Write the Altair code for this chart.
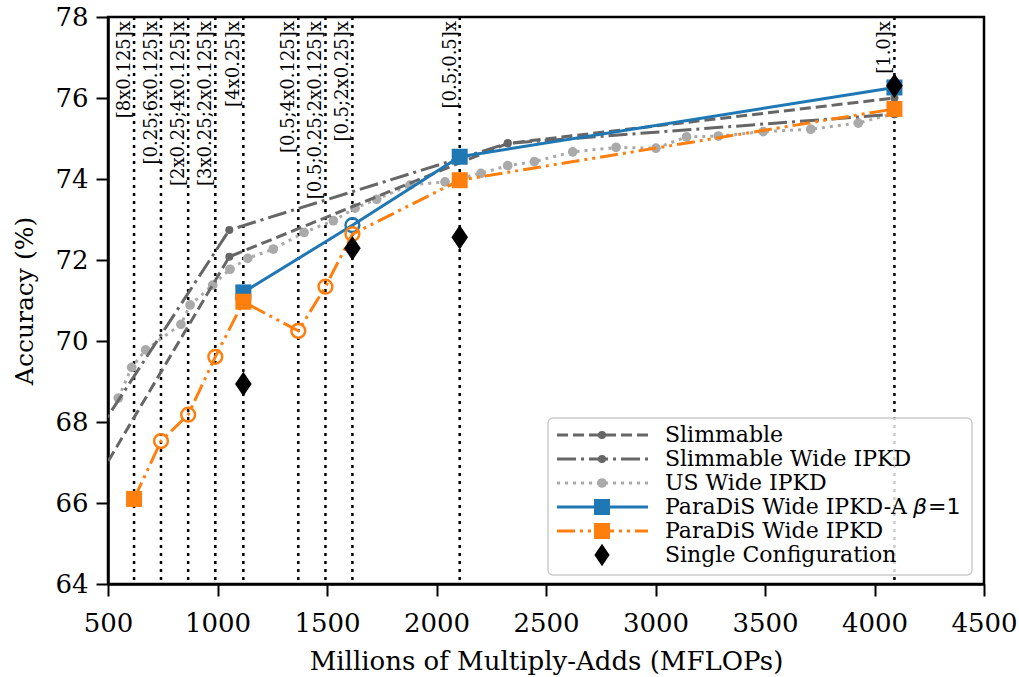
import altair as alt
import pandas as pd

# ---------------- data ----------------
config_flops = [619, 742, 866, 990, 1118, 1369, 1493, 1616, 2106, 4091]
config_labels = ["[8x0.125]x", "[0.25;6x0.125]x", "[2x0.25;4x0.125]x",
                 "[3x0.25;2x0.125]x", "[4x0.25]x", "[0.5;4x0.125]x",
                 "[0.5;0.25;2x0.125]x", "[0.5;2x0.25]x", "[0.5;0.5]x", "[1.0]x"]

slim_flops = [278, 1054, 2325, 4091]
slim_acc = [65.0, 72.08, 74.88, 76.0]

slimwide_flops = [278, 1054, 2325, 4091]
slimwide_acc = [66.3, 72.74, 74.88, 75.6]

us_flops = [547, 608, 672, 833, 875, 978, 1057, 1138, 1255, 1395, 1529, 1628,
            1727, 1879, 2039, 2203, 2325, 2447, 2622, 2820, 3002, 3142, 3287,
            3492, 3709, 3926, 4091]
us_acc = [68.59, 69.35, 69.78, 70.41, 70.89, 71.38, 71.77, 72.04, 72.27, 72.68,
          72.97, 73.28, 73.50, 73.85, 73.93, 74.14, 74.33, 74.43, 74.67, 74.78,
          74.76, 75.04, 75.06, 75.17, 75.23, 75.38, 75.62]

paraA_flops = [1118, 1616, 2106, 4091]
paraA_acc = [71.2, 72.86, 74.55, 76.26]
paraA_shape = ["square", "circle", "square", "square"]

para_flops = [619, 742, 866, 990, 1118, 1369, 1493, 1616, 2106, 4091]
para_acc = [66.1, 67.53, 68.18, 69.61, 70.97, 70.25, 71.34, 72.64, 73.97, 75.73]
para_shape = ["square", "circle", "circle", "circle", "square", "circle",
              "circle", "circle", "square", "square"]

single_flops = [1118, 1616, 2106, 4091]
single_acc = [68.94, 72.29, 72.56, 76.3]

x_ticks = [500, 1000, 1500, 2000, 2500, 3000, 3500, 4000, 4500]
y_ticks = [64, 66, 68, 70, 72, 74, 76, 78]

legend_labels = ["Slimmable", "Slimmable Wide IPKD", "US Wide IPKD",
                 "ParaDiS Wide IPKD-A", "ParaDiS Wide IPKD", "Single Configuration"]

# ---------------- styles ----------------
FONT = "DejaVu Serif"
DARK = "#666666"
LIGHT = "#aaaaaa"
BLUE = "#1f77b4"
ORANGE = "#ff7f0e"
DASH = [11, 5]
DASHDOT = [19, 5, 3, 5]
DOT = [3, 5]
DASHDOTDOT = [18, 5, 3, 5, 3, 5]
DIAMOND = "M0,-1L0.68,0L0,1L-0.68,0Z"

W, H = 876, 567

axis_common = dict(grid=False, domainColor="black", domainWidth=2.5, tickColor="black",
                   tickWidth=2, tickSize=12, labelFont=FONT, labelFontSize=26,
                   labelColor="black", titleFont=FONT, titleFontWeight="normal",
                   titleColor="black", labelFlush=False, labelOverlap=False)

xs = alt.Scale(domain=[500, 4500], nice=False, zero=False)
ys = alt.Scale(domain=[64, 78], nice=False, zero=False)
xenc = alt.X("flops:Q", scale=xs,
             axis=alt.Axis(values=x_ticks, title="Millions of Multiply-Adds (MFLOPs)",
                           format="d", labelPadding=14, titlePadding=12, titleFontSize=26,
                           **axis_common))
yenc = alt.Y("acc:Q", scale=ys,
             axis=alt.Axis(values=y_ticks, title="Accuracy (%)", labelPadding=8,
                           titlePadding=17, titleFontSize=25, **axis_common))


def df(f, a, s=None):
    d = pd.DataFrame({"flops": f, "acc": a})
    if s is not None:
        d["shape"] = s
    return d


cfg = pd.DataFrame({"flops": config_flops, "label": config_labels})

rules = alt.Chart(cfg).mark_rule(color="black", strokeDash=DOT, strokeWidth=2.5).encode(x=xenc)
labels = alt.Chart(cfg).mark_text(angle=270, align="right", baseline="bottom",
                                  font=FONT, fontSize=18, color="black").encode(
    x=xenc, y=alt.value(4), text="label:N")


def line_layer(d, color, dash, width=3):
    kw = dict(color=color, strokeWidth=width, clip=True)
    if dash:
        kw["strokeDash"] = dash
    return alt.Chart(d).mark_line(**kw).encode(x=xenc, y=yenc)


def dots(d, color, size):
    return alt.Chart(d).mark_point(shape="circle", filled=True, color=color, size=size,
                                   opacity=1, clip=True).encode(x=xenc, y=yenc)


def marked(d, color):
    sq = alt.Chart(d).transform_filter(alt.datum.shape == "square").mark_point(
        shape="square", filled=True, color=color, size=256, opacity=1, clip=True
    ).encode(x=xenc, y=yenc)
    ci = alt.Chart(d).transform_filter(alt.datum.shape == "circle").mark_point(
        shape="circle", filled=False, color=color, size=190, strokeWidth=2.5, opacity=1, clip=True
    ).encode(x=xenc, y=yenc)
    return [sq, ci]


d_us = df(us_flops, us_acc)
d_sw = df(slimwide_flops, slimwide_acc)
d_sl = df(slim_flops, slim_acc)
d_pa = df(paraA_flops, paraA_acc, paraA_shape)
d_p = df(para_flops, para_acc, para_shape)
d_s = df(single_flops, single_acc)

layers = [rules, labels,
          line_layer(d_us, LIGHT, DOT), dots(d_us, LIGHT, 95),
          line_layer(d_sw, DARK, DASHDOT), dots(d_sw, DARK, 64),
          line_layer(d_sl, DARK, DASH), dots(d_sl, DARK, 64),
          line_layer(d_pa, BLUE, None)] + marked(d_pa, BLUE) + [
          line_layer(d_p, ORANGE, DASHDOTDOT)] + marked(d_p, ORANGE) + [
          alt.Chart(d_s).mark_point(shape=DIAMOND, filled=True, color="black", size=600,
                                    opacity=1).encode(x=xenc, y=yenc)]

# ---------------- legend (drawn in pixel space) ----------------
one = pd.DataFrame({"k": [0]})
layers.append(alt.Chart(one).mark_rect(fill="white", fillOpacity=0.8, stroke="#cccccc",
                                       strokeWidth=1.5, cornerRadius=5).encode(
    x=alt.value(440), x2=alt.value(864), y=alt.value(401), y2=alt.value(558)))

LEG_FS = 22
leg_styles = [
    (DARK, DASH, "dot", 64),
    (DARK, DASHDOT, "dot", 64),
    (LIGHT, DOT, "dot", 95),
    (BLUE, None, "square", 256),
    (ORANGE, DASHDOTDOT, "square", 256),
    (None, None, "diamond", 500),
]
for i, (lab, (col, dash, mk, sz)) in enumerate(zip(legend_labels, leg_styles)):
    yy = 418 + 24 * i
    if col is not None:
        kw = dict(color=col, strokeWidth=3)
        if dash:
            kw["strokeDash"] = dash
        layers.append(alt.Chart(one).mark_rule(**kw).encode(
            x=alt.value(449), x2=alt.value(540), y=alt.value(yy)))
    if mk == "dot":
        m = alt.Chart(one).mark_point(shape="circle", filled=True, color=col, size=sz, opacity=1)
    elif mk == "square":
        m = alt.Chart(one).mark_point(shape="square", filled=True, color=col, size=sz, opacity=1)
    else:
        m = alt.Chart(one).mark_point(shape=DIAMOND, filled=True, color="black", size=sz, opacity=1)
    layers.append(m.encode(x=alt.value(494), y=alt.value(yy)))
    layers.append(alt.Chart(one).mark_text(align="left", baseline="middle", font=FONT,
                                           fontSize=LEG_FS, color="black").encode(
        x=alt.value(557), y=alt.value(yy), text=alt.value(lab)))
    if i == 3:
        layers.append(alt.Chart(one).mark_text(align="left", baseline="middle",
                                               font="DejaVu Sans", fontStyle="italic",
                                               fontSize=LEG_FS, color="black").encode(
            x=alt.value(805), y=alt.value(yy), text=alt.value("β")))
        layers.append(alt.Chart(one).mark_text(align="left", baseline="middle",
                                               font="DejaVu Sans",
                                               fontSize=LEG_FS, color="black").encode(
            x=alt.value(820), y=alt.value(yy), text=alt.value("=1")))

chart = alt.layer(*layers).properties(
    width=W, height=H,
    autosize=alt.AutoSizeParams(type="none"),
    padding={"left": 108, "top": 17, "right": 35, "bottom": 93},
).configure_view(stroke="black", strokeWidth=2.5)

chart.save("out.html", embed_options={"renderer": "svg", "actions": False})
